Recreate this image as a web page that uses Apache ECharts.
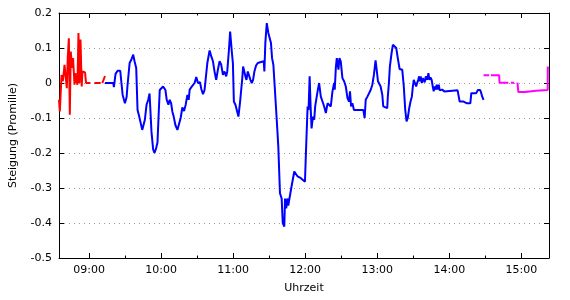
<!DOCTYPE html>
<html><head><meta charset="utf-8">
<script src="https://cdn.jsdelivr.net/npm/echarts@6/dist/echarts.min.js"></script>
<style>html,body{margin:0;padding:0;background:#fff}#c{width:570px;height:300px}</style>
</head><body><div id="c"></div>
<script>
// time in minutes since midnight, values in per mille
const xMin = 515, xMax = 923;
const majorTicks = [540, 600, 660, 720, 780, 840, 900];
const minorTicks = [570, 630, 690, 750, 810, 870];
const yMin = -0.5, yMax = 0.2, yStep = 0.1;

const redTime = [515.0,515.7,517.1,518.2,518.8,519.6,520.4,521.5,522.3,523.2,524.0,524.8,525.9,526.7,527.9,528.7,529.5,530.4,531.2,532.0,532.9,533.9,534.5,536.7,537.5,541.2,543.0,544.5,549.7,550.4,551.1,553.3];
const redValue = [-0.048,-0.081,0.023,0.005,0.023,0.052,0.048,-0.015,0.071,0.128,-0.091,0.09,0.043,0.071,-0.005,0.028,0.005,-0.005,0.143,0.0,0.124,-0.01,0.033,0.03,0.0,0.0,null,0.0,0.0,null,0.0,0.02];

const blueTime = [553.3,560.2,560.7,562.1,563.8,566.0,566.7,568.0,569.9,571.3,572.1,573.8,575.4,576.8,577.9,579.3,580.4,581.8,583.1,584.3,585.4,586.5,587.9,589.3,590.4,591.4,592.0,593.4,594.5,595.9,597.0,598.1,598.9,600.3,601.7,602.8,603.6,604.7,606.1,607.2,608.4,609.4,610.5,611.9,613.6,615.2,616.3,617.7,619.1,620.5,621.9,623.0,623.8,625.2,626.6,627.9,629.3,630.7,632.4,633.5,634.9,636.2,637.0,638.5,640.4,641.8,643.2,644.5,645.9,647.3,648.7,650.1,651.5,652.8,654.2,655.1,656.5,657.5,659.0,659.8,660.6,661.9,663.4,664.4,665.8,666.7,667.5,668.3,669.4,670.2,671.1,672.2,673.5,674.4,675.5,676.6,677.7,679.1,680.5,681.8,685.5,686.0,686.8,688.0,689.3,690.7,691.5,692.4,693.5,694.9,696.3,697.6,699.0,700.4,701.3,702.6,703.2,704.2,705.1,705.9,706.7,707.6,708.4,709.6,710.9,712.3,713.7,715.0,716.4,717.8,719.8,720.6,722.0,722.8,723.7,724.5,725.3,726.4,727.5,728.3,729.1,730.3,731.6,733.0,734.4,735.8,737.2,738.6,739.9,741.3,742.7,744.1,744.6,745.5,746.3,747.1,747.7,748.5,749.6,751.0,752.4,753.8,755.2,756.5,757.3,758.2,759.3,760.6,768.4,769.5,770.4,771.8,773.1,774.5,775.9,777.2,778.6,779.5,780.6,782.0,782.8,784.2,785.0,786.4,788.3,788.8,789.7,790.5,791.9,793.0,794.4,795.8,797.1,798.6,800.8,802.1,803.3,804.4,805.4,806.6,807.7,808.8,809.6,810.4,811.6,812.4,813.2,814.1,814.9,815.4,816.2,817.1,817.9,818.7,819.5,820.4,821.5,822.6,823.4,824.3,825.3,826.2,827.0,827.8,828.7,829.5,830.3,831.2,832.0,834.0,835.9,836.7,846.9,847.7,848.6,851.9,853.3,854.7,857.5,858.3,862.4,863.8,865.7,866.6,867.4,868.5];
const blueValue = [0.0,0.0,-0.012,0.026,0.035,0.035,0.01,-0.034,-0.058,-0.04,-0.005,0.057,0.068,0.081,0.062,0.043,-0.077,-0.096,-0.091,-0.134,-0.13,-0.105,-0.062,-0.048,-0.03,-0.035,-0.139,-0.19,-0.2,-0.186,-0.17,-0.08,-0.02,-0.015,-0.01,-0.005,-0.02,-0.048,-0.062,-0.048,-0.058,-0.082,-0.096,-0.12,-0.134,-0.13,-0.1,-0.07,-0.08,-0.062,-0.034,-0.048,-0.019,-0.012,-0.01,0.0,0.017,0.0,0.002,-0.017,-0.032,-0.02,-0.015,0.057,0.093,0.076,0.062,0.033,0.009,0.038,0.062,0.052,0.023,0.033,0.019,0.033,0.095,0.147,0.085,0.057,-0.053,-0.062,-0.067,-0.096,-0.053,-0.02,0.009,0.047,0.048,0.019,0.009,0.033,0.033,0.009,0.0,0.009,0.033,0.05,0.057,0.062,0.062,0.033,0.114,0.171,0.143,0.143,0.114,0.071,0.052,0.047,-0.105,-0.181,-0.315,-0.33,-0.40,-0.41,-0.33,-0.358,-0.33,-0.35,-0.334,-0.334,-0.30,-0.30,-0.253,-0.255,-0.267,-0.27,-0.272,-0.274,-0.282,-0.2,-0.067,-0.077,0.019,-0.067,-0.13,-0.096,-0.105,-0.067,-0.072,-0.024,0.0,-0.039,-0.053,-0.067,-0.086,-0.058,-0.053,-0.067,-0.024,0.0,-0.019,0.043,0.071,0.067,0.038,0.071,0.062,0.014,0.005,-0.01,-0.043,-0.053,-0.024,-0.067,-0.058,-0.077,-0.077,-0.1,-0.048,-0.039,-0.034,-0.02,-0.005,0.023,0.065,0.038,0.005,0.0,-0.01,-0.034,-0.067,-0.072,-0.072,-0.039,0.0,0.047,0.085,0.109,0.105,0.1,0.071,0.04,0.038,-0.01,-0.077,-0.11,-0.1,-0.072,-0.053,-0.039,-0.012,0.009,0.014,-0.01,0.0,0.009,0.019,0.005,0.019,0.0,0.014,0.009,0.002,0.019,0.009,0.028,0.009,0.016,0.009,-0.01,-0.024,-0.01,-0.019,-0.005,-0.019,-0.005,-0.021,-0.019,-0.024,-0.027,-0.021,-0.036,-0.053,-0.053,-0.048,-0.058,-0.058,-0.029,-0.029,-0.02,-0.02,-0.029,-0.039,-0.048];

const magentaTime = [868.5,873.2,873.9,874.6,881.5,881.8,889.2,890.2,891.2,894.0,895.3,896.7,897.5,903.1,903.5,912.2,912.6,921.9,922.0];
const magentaValue = [0.022,0.022,null,0.022,0.022,0.001,0.001,null,0.001,0.001,null,0.001,-0.026,-0.026,-0.022,-0.022,-0.02,-0.02,0.047];

function zip(t, v) { return t.map((x, i) => [x, v[i] === null ? '-' : v[i]]); }
function pad(n) { return (n < 10 ? '0' : '') + n; }
function fmtTime(v) { return pad(Math.floor(v / 60)) + ':' + pad(Math.round(v % 60)); }

const FONT = 'DejaVu Sans';
const txt = { color: '#000', fontFamily: FONT, fontSize: 11 };

function xAx(pos, ticks, len, withLine, withLabel) {
  return {
    type: 'value', position: pos, min: xMin, max: xMax,
    axisLine: { show: withLine, onZero: false, lineStyle: { color: '#000', width: 1 } },
    axisTick: { show: true, inside: true, length: len, customValues: ticks, lineStyle: { color: '#000', width: 1 } },
    axisLabel: withLabel ? Object.assign({ show: true, customValues: ticks, formatter: fmtTime, margin: 7 }, txt) : { show: false },
    splitLine: { show: false }
  };
}

const bottomMajor = xAx('bottom', majorTicks, 5, true, true);
bottomMajor.name = 'Uhrzeit';
bottomMajor.nameLocation = 'middle';
bottomMajor.nameGap = 25;
bottomMajor.nameTextStyle = txt;

function yAx(pos, withLabel) {
  return {
    type: 'value', position: pos, min: yMin, max: yMax, interval: yStep,
    axisLine: { show: true, onZero: false, lineStyle: { color: '#000', width: 1 } },
    axisTick: { show: true, inside: true, length: 5, lineStyle: { color: '#000', width: 1 } },
    axisLabel: withLabel ? Object.assign({ show: true, margin: 7, formatter: v => String(Math.round(v * 10) / 10) }, txt) : { show: false },
    splitLine: withLabel ? { show: true, lineStyle: { color: '#999', width: 1, type: [1, 4] } } : { show: false }
  };
}
const leftY = yAx('left', true);
leftY.name = 'Steigung (Promille)';
leftY.nameLocation = 'middle';
leftY.nameGap = 40;
leftY.nameTextStyle = txt;

function lineSeries(data, color) {
  return { type: 'line', data: data, xAxisIndex: 0, yAxisIndex: 0, showSymbol: false, symbol: 'none',
    connectNulls: false, animation: false, lineStyle: { color: color, width: 2 }, itemStyle: { color: color } };
}

const chart = echarts.init(document.getElementById('c'), null, { renderer: 'canvas' });
chart.setOption({
  backgroundColor: '#fff',
  animation: false,
  grid: { left: 58, right: 21, top: 13, bottom: 42, containLabel: false },
  xAxis: [bottomMajor, xAx('bottom', minorTicks, 2.5, false, false), xAx('top', majorTicks, 5, true, false), xAx('top', minorTicks, 2.5, false, false)],
  yAxis: [leftY, yAx('right', false)],
  series: [
    lineSeries(zip(redTime, redValue), '#ff0000'),
    lineSeries(zip(blueTime, blueValue), '#0000ff'),
    lineSeries(zip(magentaTime, magentaValue), '#ff00ff')
  ]
});
</script></body></html>
